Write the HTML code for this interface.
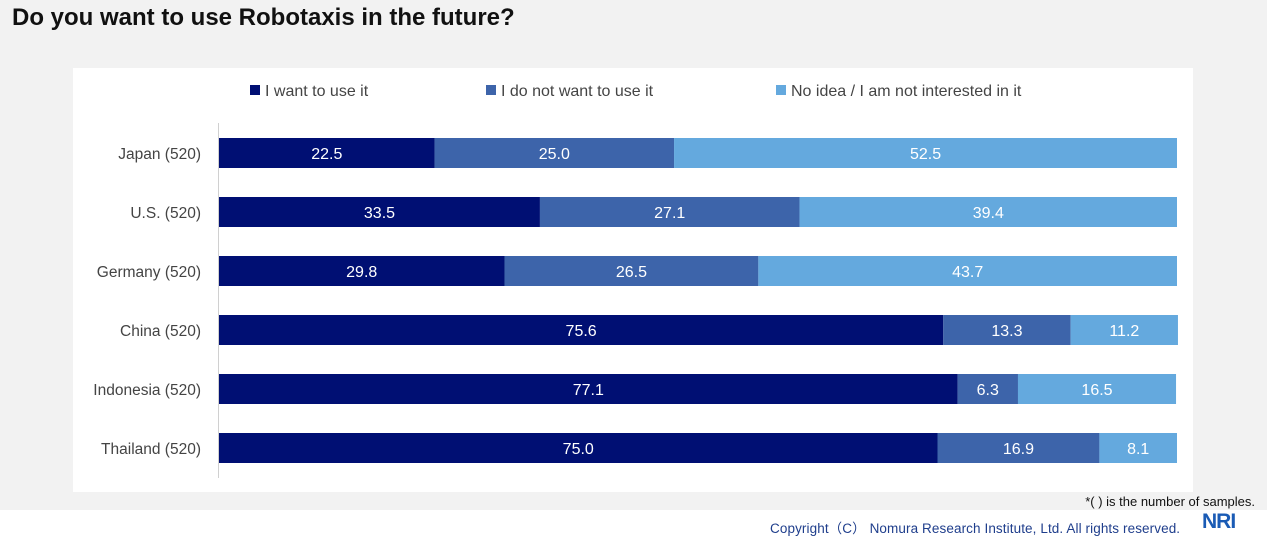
<!DOCTYPE html>
<html><head><meta charset="utf-8"><style>
body{margin:0;width:1267px;height:537px;overflow:hidden;background:#fff;font-family:"Liberation Sans",sans-serif;}
#bg{position:absolute;left:0;top:0;width:1267px;height:510px;background:#f2f2f2;}
#title{position:absolute;left:12px;top:4px;font-size:24px;font-weight:bold;color:#111;}
#panel{position:absolute;left:73px;top:68px;width:1120px;height:424px;background:#fff;}
svg{position:absolute;left:0;top:0;}
#note{position:absolute;right:12px;top:494px;font-size:13px;color:#111;}
#copy{position:absolute;left:770px;top:517px;font-size:13.5px;color:#1f3e8c;letter-spacing:0.1px;}
#nri{position:absolute;left:1202px;top:510px;font-size:21px;font-weight:bold;color:#1a5bb5;letter-spacing:-1px;}
</style></head><body>
<div id="bg"></div>
<div id="title">Do you want to use Robotaxis in the future?</div>
<div id="panel"></div>
<svg id="chart" width="1267" height="537"></svg>
<div id="note">*( ) is the number of samples.</div>
<div id="copy">Copyright（C） Nomura Research Institute, Ltd. All rights reserved.</div>
<div id="nri">NRI</div>
<script>
const categories=["Japan (520)","U.S. (520)","Germany (520)","China (520)","Indonesia (520)","Thailand (520)"];
const want=[22.5,33.5,29.8,75.6,77.1,75.0];
const notWant=[25.0,27.1,26.5,13.3,6.3,16.9];
const noIdea=[52.5,39.4,43.7,11.2,16.5,8.1];
const seriesNames=["I want to use it","I do not want to use it","No idea / I am not interested in it"];
const colors=["#000f73","#3d64aa","#64a9de"];
const NS="http://www.w3.org/2000/svg";
const svg=document.getElementById('chart');
const x0=219,x1=1177;
const xs=v=>v*(x1-x0)/100;
const yc=i=>153+i*59;
const bh=30;
function mk(t,a){const e=document.createElementNS(NS,t);for(const k in a)e.setAttribute(k,a[k]);svg.appendChild(e);return e;}
const ax=mk('line',{x1:218.5,x2:218.5,y1:123,y2:478,stroke:'#d0d0d0'});


const series=[want,notWant,noIdea];
const legX=[250,486,776];
seriesNames.forEach((n,s)=>{
 const r=mk('rect',{x:legX[s],y:85,width:10,height:10,fill:colors[s]});
 
 
 const t=mk('text',{x:legX[s]+15,y:96,'font-size':16,fill:'#444'});
 t.textContent=n;
 
 
});
categories.forEach((c,i)=>{
 const l=mk('text',{x:201,y:yc(i)+6,'font-size':15.5,fill:'#444','text-anchor':'end'});
 l.textContent=c;
 
 
 let acc=0;
 series.forEach((arr,s)=>{
  const v=arr[i];const x=x0+xs(acc);const w=xs(v);
  const r=mk('rect',{x:x,y:yc(i)-bh/2,width:w,height:bh,fill:colors[s]});
  
  
  const t=mk('text',{x:x+w/2,y:yc(i)+6,'font-size':16,fill:'#fff','text-anchor':'middle'});
  t.textContent=v.toFixed(1);
  
  
  acc+=v;
 });
});
</script>
</body></html>
